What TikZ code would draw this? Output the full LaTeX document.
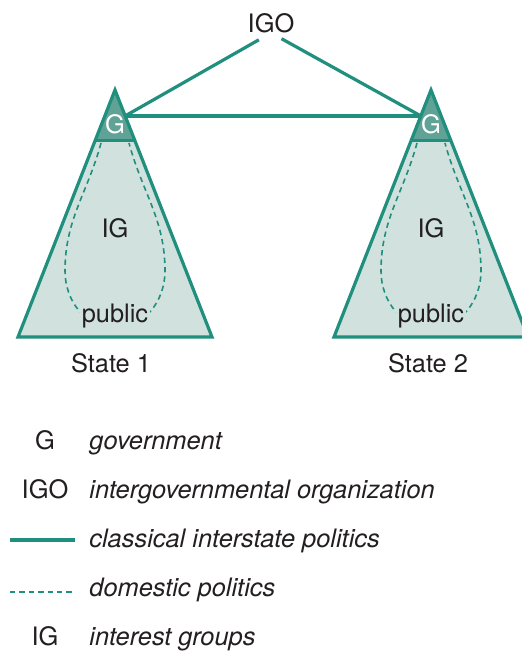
\documentclass[tikz,border=0pt]{standalone}
\usepackage{fontspec}
\setmainfont{TeX Gyre Heros}
\usetikzlibrary{calc}

\definecolor{linkteal}{RGB}{32,143,126}
\definecolor{govteal}{RGB}{96,162,149}
\definecolor{statefill}{RGB}{209,225,222}
\definecolor{inkblack}{RGB}{35,31,32}

\begin{document}
\begin{tikzpicture}[x=0.5pt, y=-0.5pt,
    txt/.style={font=\fontsize{12.7}{15}\selectfont, text=inkblack, anchor=base},
    gtxt/.style={font=\fontsize{12.7}{15}\selectfont, text=white, anchor=base},
    keytxt/.style={font=\fontsize{12.7}{15}\selectfont\itshape, text=inkblack, anchor=base west, inner sep=0pt},
    state/.style={fill=statefill, draw=linkteal, line width=1.6pt},
    govpart/.style={fill=govteal},
    link/.style={draw=linkteal, line width=1.6pt},
    domestic/.style={draw=linkteal, line width=0.8pt, dash pattern=on 2.7pt off 2pt}
]
\useasboundingbox (0,0) rectangle (522,654);

% State 1
\coordinate (apex1) at (115,90);
\coordinate (bl1) at (18,337);
\coordinate (br1) at (212,337);
\coordinate (gl1) at ($(apex1)!0.206!(bl1)$);
\coordinate (gr1) at ($(apex1)!0.206!(br1)$);
\coordinate (g1) at ($(apex1)!0.105!(br1)$);
\fill[statefill] (apex1) -- (bl1) -- (br1) -- cycle;
\fill[govpart] (apex1) -- (gl1) -- (gr1) -- cycle;
\draw[link] (gl1) -- (gr1);
\draw[domestic] (101,143) to[out=-105,in=90] (65,271) to[out=-90,in=180] (115,328)
    to[out=0,in=-90] (165,271) to[out=90,in=-75] (129,143);
\draw[state, fill=none] (apex1) -- (bl1) -- (br1) -- cycle;

% State 2
\coordinate (apex2) at (431,90);
\coordinate (bl2) at (334,337);
\coordinate (br2) at (528,337);
\coordinate (gl2) at ($(apex2)!0.206!(bl2)$);
\coordinate (gr2) at ($(apex2)!0.206!(br2)$);
\coordinate (g2) at ($(apex2)!0.105!(bl2)$);
\fill[statefill] (apex2) -- (bl2) -- (br2) -- cycle;
\fill[govpart] (apex2) -- (gl2) -- (gr2) -- cycle;
\draw[link] (gl2) -- (gr2);
\draw[domestic] (417,143) to[out=-105,in=90] (381,271) to[out=-90,in=180] (431,328)
    to[out=0,in=-90] (481,271) to[out=90,in=-75] (445,143);
\draw[state, fill=none] (apex2) -- (bl2) -- (br2) -- cycle;

% Labels inside the states
\node[gtxt] (gov1) at (115,133) {G};
\node[txt] (ig1) at (115,237) {IG};
\node[txt, fill=statefill, inner xsep=1pt, inner ysep=3pt] (pub1) at (115,322) {public};
\node[txt] (state1) at (111,372) {State 1};
\node[gtxt] (gov2) at (431,133) {G};
\node[txt] (ig2) at (431,237) {IG};
\node[txt, fill=statefill, inner xsep=1pt, inner ysep=3pt] (pub2) at (431,322) {public};
\node[txt] (state2) at (428,372) {State 2};

% Interstate links
\node[txt, inner sep=0pt] (igo) at (271,32) {IGO};
\draw[link, shorten <=7pt] (igo.south) -- (g1);
\draw[link, shorten <=6pt] (igo.south) -- (g2);
\draw[link] (g1) -- (g2);

% Legend
\node[txt] (keyg) at (45,449) {G};
\node[keytxt] (keygov) at (89,449) {government};
\node[txt] (keyigo) at (45,498) {IGO};
\node[keytxt] (keyorg) at (89,498) {intergovernmental organization};
\coordinate (keysolida) at (10,540);
\coordinate (keysolidb) at (75,540);
\draw[link] (keysolida) -- (keysolidb);
\node[keytxt] (keyclass) at (89,547) {classical interstate politics};
\coordinate (keydasha) at (10,592);
\coordinate (keydashb) at (75,592);
\draw[domestic] (keydasha) -- (keydashb);
\node[keytxt] (keydom) at (89,596) {domestic politics};
\node[txt] (keyig) at (45,645) {IG};
\node[keytxt] (keyint) at (89,645) {interest groups};

\end{tikzpicture}
\end{document}
